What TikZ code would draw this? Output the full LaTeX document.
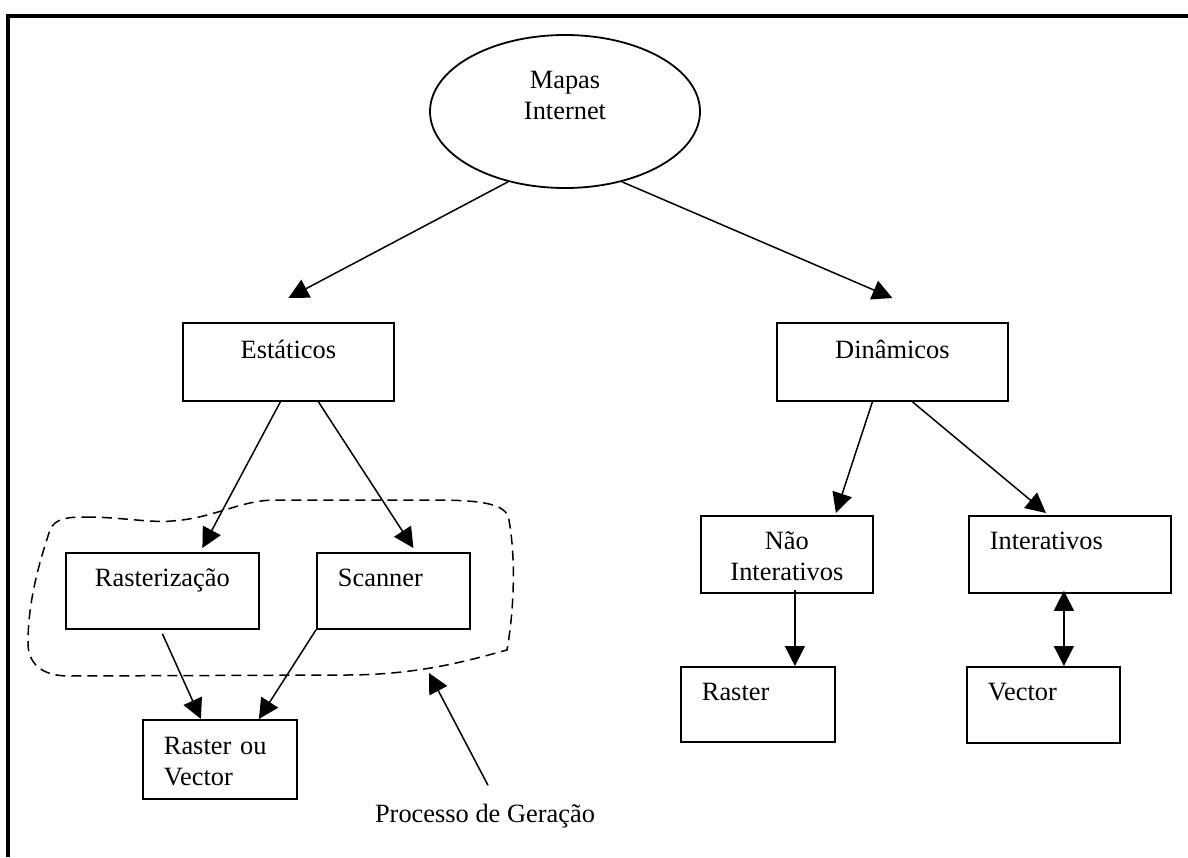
\documentclass[tikz,border=0pt]{standalone}
\usepackage{fontspec}
\setmainfont{Liberation Serif}
\usepackage{tikz}
\usetikzlibrary{positioning,arrows.meta,shapes.geometric}

\begin{document}
\begin{tikzpicture}[
x=0.5pt, y=-0.5pt,
every node/.style={font=\fontsize{13.2}{15.5}\selectfont},
box/.style={
draw,
rectangle,
line width=0.9pt,
anchor=north west,
inner xsep=10.5pt,
inner ysep=0pt,
text height=17pt,
text depth=21pt
},
arr/.style={-{Triangle[width=10pt,length=10pt]}, line width=0.75pt},
dblarr/.style={{Triangle[width=10pt,length=10pt]}-{Triangle[width=10pt,length=10pt]}, line width=0.75pt}
]
\useasboundingbox (0,0) rectangle (1188,857);

% frame
\draw[line width=2pt] (1188,15.5) -- (8,15.5) -- (8,857);

\node[ellipse, draw, line width=0.9pt, minimum width=135pt, minimum height=76.5pt,
inner sep=0pt, text width=60pt, align=center, text height=10pt, text depth=33.5pt]
(mapas) at (565,111.5) {Mapas\\Internet};

\node[box, text width=84.5pt, align=center, text height=18pt] (estat) at (182,322) {Estáticos};
\node[box, text width=94.5pt, align=center, text height=18pt] (dinam) at (776,322) {Dinâmicos};

\node[box, text width=75.5pt, align=center] (rast) at (65,552) {Rasterização};
\node[box, text width=55.5pt, align=left] (scan) at (316,552) {Scanner};
\node[box, text width=56pt, align=left, text height=17.5pt, text depth=22pt] (rov) at (142,719) {Raster ou\\Vector};

\node[box, text width=65pt, align=center, text depth=21.5pt] (nao) at (700,515) {Não\\Interativos};
\node[box, text width=80pt, align=left, text depth=21.5pt] (inter) at (968,515) {Interativos};
\node[box, text width=56pt, align=left, text depth=20.5pt] (raster) at (680,666) {Raster};
\node[box, text width=55.5pt, align=left] (vector) at (966,666) {Vector};

\node[anchor=base, inner sep=0pt] (proc) at (485,822) {Processo de Geração};

% generation process outline
\draw[dashed, dash pattern=on 5pt off 3pt, line width=0.75pt]
(86,517) .. controls (120,517) and (150,523) .. (172,521)
.. controls (215,518) and (240,500) .. (276,500)
-- (431,500)
.. controls (480,500) and (507,503) .. (509,520)
.. controls (516,560) and (514,610) .. (507,650)
.. controls (470,660) and (420,675) .. (345,675)
-- (69,676)
.. controls (40,676) and (28,662) .. (28,643)
.. controls (28,600) and (40,560) .. (50,530)
.. controls (55,518) and (68,517) .. (86,517) -- cycle;
\coordinate (gen) at (429,673);

\draw[arr] (mapas.231) -- ([yshift=12pt]estat.north);
\draw[arr] (mapas.309) -- ([yshift=12pt]dinam.north);

\draw[arr] ([xshift=-4pt]estat.south) -- ([xshift=20pt,yshift=2pt]rast.north);
\draw[arr] ([xshift=15pt]estat.south) -- ([xshift=10pt,yshift=2pt]scan.north);
\draw[arr] ([yshift=-2pt]rast.south) -- ([xshift=-9.5pt]rov.north);
\draw[arr] (scan.south west) -- ([xshift=19.5pt]rov.north);

\draw[arr] ([xshift=-10pt]dinam.south) -- ([xshift=24.5pt,yshift=1pt]nao.north);
\draw[arr] ([xshift=10pt]dinam.south) -- ([xshift=-12pt,yshift=1pt]inter.north);
\draw[arr] ([xshift=4pt,yshift=2pt]nao.south) -- ([xshift=18.5pt]raster.north);
\draw[dblarr] ([xshift=-3pt,yshift=1.5pt]inter.south) -- ([xshift=10.25pt]vector.north);

\draw[arr] ([xshift=1.5pt,yshift=9pt]proc.north) -- (gen);
\end{tikzpicture}
\end{document}
